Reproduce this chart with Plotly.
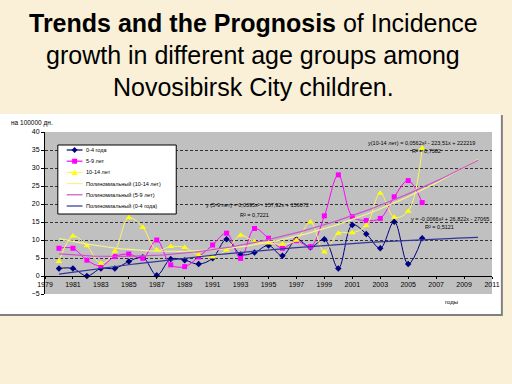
import numpy as np
import plotly.graph_objects as go

# ---------------- data ----------------
years = list(range(1980, 2007))
age_0_4 = [2.1, 2.1, 0.0, 2.1, 2.1, 4.0, 5.2, 0.2, 4.7, 4.4, 3.3, 4.9, 10.2, 6.0, 6.5,
           8.5, 5.6, 10.2, 8.0, 10.2, 2.1, 14.2, 11.7, 7.7, 15.1, 3.3, 10.5]
age_5_9 = [7.7, 7.7, 4.4, 2.8, 5.4, 6.1, 4.9, 10.0, 3.1, 2.6, 5.3, 8.6, 11.9, 4.9, 13.2,
           10.5, 7.7, 9.8, 8.1, 16.7, 28.1, 16.5, 15.4, 16.0, 22.0, 26.5, 20.4]
age_10_14 = [4.0, 11.1, 8.4, 3.5, 6.9, 16.2, 13.5, 7.2, 8.2, 7.9, 5.8, 5.3, 7.2, 11.3, 9.5,
             9.2, 8.8, 9.9, 15.0, 6.7, 11.9, 12.0, 14.0, 23.0, 16.3, 18.0, 35.5]

series_names = ["0-4 года", "5-9 лет", "10-14 лет"]
trend_names = ["Полиномиальный (10-14 лет)", "Полиномиальный (5-9 лет)", "Полиномиальный (0-4 года)"]
forecast_end = 2010

eq_10_14 = "y(10-14 лет) = 0,0562x² - 223,51x + 222219"
r2_10_14 = "R² = 0,7382"
eq_5_9 = "y (5-9 лет) = 0,0395x² - 157,92x + 156672"
r2_5_9 = "R² = 0,7221"
eq_0_4 = "y = -0,0066x² + 26,822x - 27065"
r2_0_4 = "R² = 0,5121"

title_lines = ["<b>Trends and the Prognosis</b> of Incidence",
               "growth in different age groups among",
               "Novosibirsk City children."]
y_title = "на 100000 дн."
x_title = "годы"

# ---------------- styles ----------------
C_BLUE = "#000080"
C_PINK = "#FF00FF"
C_YEL = "#FFFF00"
C_YEL_LINE = "#F8F860"
C_T_YEL = "#F4F48C"
C_T_PINK = "#CC55CC"
C_T_BLUE = "#333399"
FONT = "Liberation Sans, Arial, sans-serif"

W, H = 512, 384
L, R, T, B = 45, 498, 132, 294   # plot area in px


def px(xp):
    return (xp - L) / (R - L)


def py(yp):
    return (B - yp) / (B - T)


fig = go.Figure()

series = [
    (series_names[0], age_0_4, C_BLUE, C_BLUE, "diamond", 5),
    (series_names[1], age_5_9, C_PINK, C_PINK, "square", 5),
    (series_names[2], age_10_14, C_YEL_LINE, C_YEL, "triangle-up", 6),
]
for name, vals, lcol, mcol, sym, sz in series:
    fig.add_trace(go.Scatter(
        x=years, y=vals, name=name, mode="lines+markers",
        line=dict(color=lcol, width=1, shape="spline", smoothing=1.0),
        marker=dict(symbol=sym, size=sz, color=mcol, line=dict(width=0)),
        showlegend=False, hoverinfo="skip"))

xf = np.linspace(years[0], forecast_end, 121)
trends = [
    (trend_names[0], age_10_14, C_T_YEL),
    (trend_names[1], age_5_9, C_T_PINK),
    (trend_names[2], age_0_4, C_T_BLUE),
]
for name, vals, col in trends:
    xs = np.array(years, dtype=float) - 1993.0
    c = np.polyfit(xs, np.array(vals), 2)
    yf = np.polyval(c, xf - 1993.0)
    fig.add_trace(go.Scatter(x=xf, y=yf, name=name, mode="lines",
                             line=dict(color=col, width=1.2),
                             showlegend=False, hoverinfo="skip"))

shapes = []
# chart box shadow + white box
shapes.append(dict(type="rect", xref="paper", yref="paper", layer="below",
                   x0=px(-2), x1=px(509), y0=py(316), y1=py(115),
                   fillcolor="#808080", line=dict(width=0)))
shapes.append(dict(type="rect", xref="paper", yref="paper", layer="below",
                   x0=px(-2), x1=px(507), y0=py(314), y1=py(114),
                   fillcolor="white", line=dict(width=0)))
# grey plot area
shapes.append(dict(type="rect", xref="paper", yref="paper", layer="below",
                   x0=0, x1=1, y0=0, y1=1, fillcolor="#C0C0C0", line=dict(width=0)))

# legend box
LG_X0, LG_X1, LG_Y0, LG_Y1 = 58, 178, 145, 214
shapes.append(dict(type="rect", xref="paper", yref="paper", layer="above",
                   x0=px(LG_X0), x1=px(LG_X1), y0=py(LG_Y1), y1=py(LG_Y0),
                   fillcolor="white", line=dict(color="black", width=1)))

legend_items = [
    (series_names[0], C_BLUE, C_BLUE, "diamond"),
    (series_names[1], C_PINK, C_PINK, "square"),
    (series_names[2], C_YEL_LINE, C_YEL, "triangle"),
    (trend_names[0], C_T_YEL, None, None),
    (trend_names[1], C_T_PINK, None, None),
    (trend_names[2], C_T_BLUE, None, None),
]
annotations = []
row0, row_step = 150, 11.2
for i, (name, col, mcol, sym) in enumerate(legend_items):
    yc = row0 + i * row_step
    shapes.append(dict(type="line", xref="paper", yref="paper", layer="above",
                       x0=px(67), x1=px(83), y0=py(yc), y1=py(yc),
                       line=dict(color=col, width=1.2)))
    mx = 75
    s = 2.5
    if sym == "square":
        shapes.append(dict(type="rect", xref="paper", yref="paper", layer="above",
                           x0=px(mx - s), x1=px(mx + s), y0=py(yc + s), y1=py(yc - s),
                           fillcolor=mcol, line=dict(width=0)))
    elif sym == "diamond":
        path = "M {} {} L {} {} L {} {} L {} {} Z".format(
            px(mx - s - 0.5), py(yc), px(mx), py(yc - s - 0.5),
            px(mx + s + 0.5), py(yc), px(mx), py(yc + s + 0.5))
        shapes.append(dict(type="path", xref="paper", yref="paper", layer="above",
                           path=path, fillcolor=mcol, line=dict(width=0)))
    elif sym == "triangle":
        path = "M {} {} L {} {} L {} {} Z".format(
            px(mx - 3), py(yc + 2.5), px(mx + 3), py(yc + 2.5), px(mx), py(yc - 3))
        shapes.append(dict(type="path", xref="paper", yref="paper", layer="above",
                           path=path, fillcolor=mcol, line=dict(width=0)))
    annotations.append(dict(xref="paper", yref="paper", x=px(85), y=py(yc),
                            xanchor="left", yanchor="middle", showarrow=False,
                            text=name, font=dict(size=5.5, color="black", family=FONT)))

# title
for i, line in enumerate(title_lines):
    annotations.append(dict(xref="paper", yref="paper", x=px(256), y=py(23 + i * 32),
                            xanchor="center", yanchor="middle", showarrow=False,
                            text=line, font=dict(size=25, color="black", family=FONT)))

# equations
eqs = [
    (eq_10_14, 427, 143), (r2_10_14, 432, 151),
    (eq_5_9, 260, 205), (r2_5_9, 257, 215),
    (eq_0_4, 455, 219), (r2_0_4, 445, 227),
]
for txt, xx, yy in eqs:
    annotations.append(dict(xref="paper", yref="paper", x=px(xx), y=py(yy),
                            xanchor="center", yanchor="middle", showarrow=False,
                            text=txt, font=dict(size=5.5, color="black", family=FONT)))

annotations.append(dict(xref="paper", yref="paper", x=px(9), y=py(123),
                        xanchor="left", yanchor="middle", showarrow=False,
                        text=y_title, font=dict(size=6.5, color="black", family=FONT)))
annotations.append(dict(xref="paper", yref="paper", x=px(457), y=py(302),
                        xanchor="center", yanchor="middle", showarrow=False,
                        text=x_title, font=dict(size=6, color="black", family=FONT)))

fig.update_layout(
    width=W, height=H,
    margin=dict(l=L, r=W - R, t=T, b=H - B, pad=0),
    paper_bgcolor="#FAF0D8",
    plot_bgcolor="rgba(0,0,0,0)",
    showlegend=False,
    hovermode=False,
    shapes=shapes,
    annotations=annotations,
    font=dict(family=FONT, color="black"),
    xaxis=dict(range=[1979, 2011], tick0=1979, dtick=2, anchor="free",
               position=5 / 45,
               showline=True, linecolor="black", linewidth=1,
               ticks="outside", ticklen=2, tickcolor="black",
               showgrid=False, zeroline=False,
               tickfont=dict(size=7, color="black", family=FONT)),
    yaxis=dict(range=[-5, 40], tick0=-5, dtick=5,
               showline=True, linecolor="black", linewidth=1,
               ticks="outside", ticklen=3, tickcolor="black",
               showgrid=False, zeroline=False,
               minor=dict(tickmode="array", tickvals=[5, 10, 15, 20, 25, 30, 35],
                          showgrid=True, gridcolor="#333333", gridwidth=1,
                          griddash="3px,2px", ticks=""),
               tickfont=dict(size=7, color="black", family=FONT)),
)

fig.write_html("out.html", config=dict(displayModeBar=False),
               post_script="document.body.style.margin='0';document.body.style.overflow='hidden';")
